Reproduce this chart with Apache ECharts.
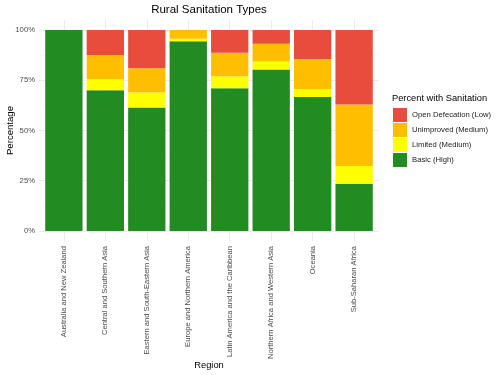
<!DOCTYPE html>
<html>
<head>
<meta charset="utf-8">
<script src="https://cdn.jsdelivr.net/npm/echarts@6/dist/echarts.min.js"></script>
<style>html,body{margin:0;padding:0;background:#fff;}#c{width:500px;height:375px;}</style>
</head>
<body>
<div id="c"></div>
<script>
const regions = ["Australia and New Zealand","Central and Southern Asia","Eastern and South-Eastern Asia","Europe and Northern America","Latin America and the Caribbean","Northern Africa and Western Asia","Oceania","Sub-Saharan Africa"];
const basic = [100, 70.0, 61.4, 94.4, 71.0, 80.3, 66.7, 23.5];
const limited = [0, 5.5, 7.6, 1.3, 6.0, 4.0, 4.0, 8.8];
const unimproved = [0, 12.1, 12.0, 4.3, 11.7, 8.9, 14.9, 30.6];
const openDef = [0, 12.4, 19.0, 0, 11.3, 6.8, 14.4, 37.1];
const yTicks = [0, 25, 50, 75, 100];
const yMinorTicks = [12.5, 37.5, 62.5, 87.5];

const names = ["Basic (High)","Limited (Medium)","Unimproved (Medium)","Open Defecation (Low)"];
const colors = ["#228B22","#FFFF00","#FFBF00","#E74C3C"];
const values = [basic, limited, unimproved, openDef];
const idx = regions.map((_, i) => i);

const chart = echarts.init(document.getElementById('c'), null, {renderer: 'canvas'});
const FONT = 'Liberation Sans, Arial, sans-serif';
// panel (ggplot-like, with expansion) and band grid
const P_LEFT = 39, P_RIGHT = 379, P_TOP = 20, P_BOTTOM = 241;
const unit = (P_RIGHT - P_LEFT) / 8.2;
const bandLeft = P_LEFT + 0.1 * unit, bandRight = P_RIGHT - 0.1 * unit;

chart.setOption({
  animation: false,
  backgroundColor: '#fff',
  textStyle: {fontFamily: FONT},
  title: [
    {text: 'Rural Sanitation Types', left: 209, top: 4, textAlign: 'center', padding: 0,
     textStyle: {fontFamily: FONT, fontSize: 11.5, fontWeight: 'normal', color: '#000'}},
    {text: 'Percent with Sanitation', left: 392, top: 94, padding: 0,
     textStyle: {fontFamily: FONT, fontSize: 9.3, fontWeight: 'normal', color: '#000'}}
  ],
  legend: {
    data: names.slice().reverse(),
    orient: 'vertical', left: 393, top: 108, padding: 0,
    itemWidth: 14, itemHeight: 14, itemGap: 1, icon: 'rect',
    textStyle: {fontFamily: FONT, fontSize: 7.7, color: '#1a1a1a'},
    selectedMode: false
  },
  grid: [
    {left: P_LEFT, right: 500 - P_RIGHT, top: P_TOP, bottom: 375 - P_BOTTOM, outerBoundsMode: 'none', containLabel: false},
    {left: bandLeft, right: 500 - bandRight, top: P_TOP, bottom: 375 - P_BOTTOM, outerBoundsMode: 'none', containLabel: false}
  ],
  xAxis: [{
    gridIndex: 0, type: 'value', min: -0.6, max: 7.6,
    axisLine: {show: false},
    axisTick: {show: false, customValues: idx},
    axisLabel: {show: false, customValues: idx},
    splitLine: {show: true, lineStyle: {color: '#ebebeb', width: 1}}
  }, {
    gridIndex: 1, type: 'category', data: regions,
    name: 'Region', nameLocation: 'middle', nameGap: 120, nameMoveOverlap: false,
    nameTextStyle: {fontFamily: FONT, fontSize: 9.3, color: '#000'},
    axisLine: {show: false}, axisTick: {show: false},
    axisLabel: {rotate: 90, margin: 5, fontSize: 7.6, color: '#4d4d4d', fontFamily: FONT, interval: 0},
    splitLine: {show: false}
  }],
  yAxis: [{
    gridIndex: 0, type: 'value', min: -5, max: 105,
    name: 'Percentage', nameLocation: 'middle', nameGap: 24, nameRotate: 90, nameMoveOverlap: false,
    nameTextStyle: {fontFamily: FONT, fontSize: 9.6, color: '#000'},
    axisLine: {show: false},
    axisTick: {show: false, customValues: yTicks},
    axisLabel: {customValues: yTicks, margin: 4, fontSize: 7.7, color: '#4d4d4d', fontFamily: FONT,
      formatter: v => v + '%'},
    splitLine: {show: true, lineStyle: {color: '#ebebeb', width: 1}}
  }, {
    gridIndex: 0, type: 'value', min: -5, max: 105,
    axisLine: {show: false},
    axisTick: {show: false, customValues: yMinorTicks},
    axisLabel: {show: false, customValues: yMinorTicks},
    splitLine: {show: true, lineStyle: {color: '#f5f5f5', width: 0.6}}
  }, {
    gridIndex: 1, type: 'value', min: -5, max: 105,
    axisLine: {show: false}, axisTick: {show: false},
    axisLabel: {show: false}, splitLine: {show: false}
  }],
  series: names.map((n, k) => ({
    name: n, type: 'bar', stack: 'total', xAxisIndex: 1, yAxisIndex: 2,
    barCategoryGap: '10%',
    itemStyle: {color: colors[k]},
    data: values[k]
  }))
});
</script>
</body>
</html>
